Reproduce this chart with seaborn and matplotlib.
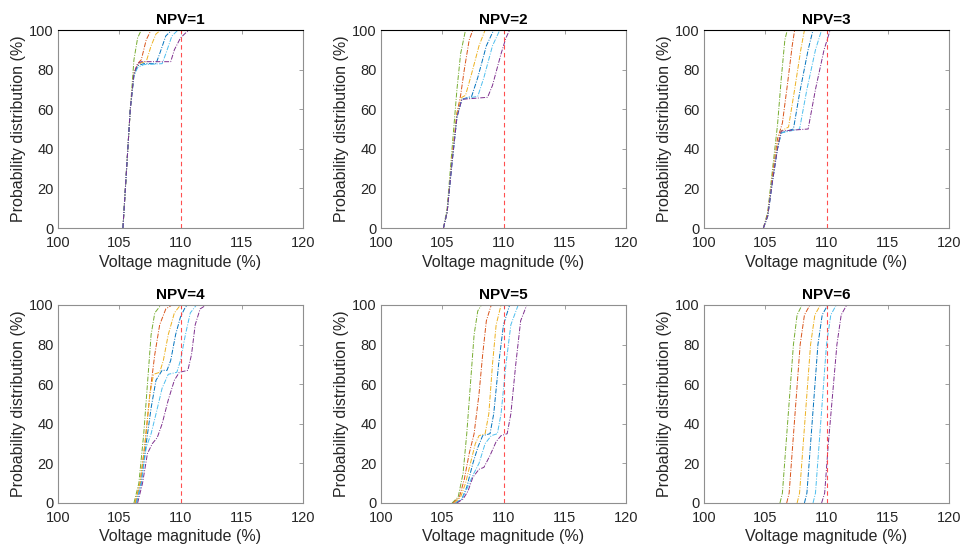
"""CDF of voltage magnitude for different numbers of PV units (NPV=1..6)."""

import matplotlib

matplotlib.use("Agg")
import matplotlib.pyplot as plt
import pandas as pd
import seaborn as sns

# MATLAB default colour order as it appears in the curves (left to right)
CURVE_COLORS = ["#77AC30", "#D95319", "#EDB120", "#0072BD", "#4DBEEE", "#7E2F8E"]
TITLES = ["NPV=1", "NPV=2", "NPV=3", "NPV=4", "NPV=5", "NPV=6"]
X_TICKS = [100, 105, 110, 115, 120]
Y_TICKS = [0, 20, 40, 60, 80, 100]
LIMIT_V = 110

# each panel: one curve per colour, (voltage %, cumulative probability %)
NPV1 = [
    [(105.3, 0), (105.6, 30), (105.9, 60), (106.2, 85), (106.5, 96), (106.8, 100)],
    [(105.3, 0), (105.6, 30), (105.9, 60), (106.2, 78), (106.5, 83), (106.8, 85), (107.2, 95), (107.6, 100)],
    [(105.3, 0), (105.6, 30), (105.9, 60), (106.2, 78), (106.5, 82), (106.8, 83.5), (107.2, 84), (107.6, 92), (108.0, 98), (108.4, 100)],
    [(105.3, 0), (105.6, 30), (105.9, 60), (106.2, 77), (106.5, 82), (107.0, 83), (108.0, 83), (108.3, 88), (108.8, 97), (109.3, 100)],
    [(105.3, 0), (105.6, 30), (105.9, 60), (106.2, 77), (106.5, 81), (107.0, 82.5), (108.5, 83), (108.8, 88), (109.3, 97), (109.8, 100)],
    [(105.3, 0), (105.6, 30), (105.9, 60), (106.2, 78), (106.5, 83), (106.8, 84), (109.2, 84), (109.5, 90), (110.0, 96), (110.5, 99), (110.8, 100)],
]
NPV2 = [
    [(105.1, 0), (105.4, 10), (105.8, 40), (106.2, 70), (106.5, 88), (106.9, 100)],
    [(105.1, 0), (105.4, 8), (105.8, 35), (106.2, 58), (106.5, 67), (106.8, 80), (107.2, 95), (107.5, 100)],
    [(105.1, 0), (105.4, 8), (105.8, 35), (106.2, 58), (106.6, 66), (106.9, 67), (107.4, 78), (108.0, 92), (108.5, 100)],
    [(105.1, 0), (105.4, 8), (105.8, 33), (106.2, 56), (106.6, 65), (107.4, 66.5), (107.9, 76), (108.6, 92), (109.2, 100)],
    [(105.1, 0), (105.4, 8), (105.8, 33), (106.2, 56), (106.6, 65), (107.9, 66.5), (108.4, 76), (109.1, 92), (109.7, 100)],
    [(105.1, 0), (105.4, 8), (105.8, 33), (106.2, 56), (106.6, 65), (108.7, 66), (109.1, 72), (109.8, 88), (110.2, 96), (110.5, 100)],
]
NPV3 = [
    [(104.85, 0), (105.2, 8), (105.6, 30), (106.0, 52), (106.3, 75), (106.6, 95), (106.8, 100)],
    [(104.85, 0), (105.2, 7), (105.6, 27), (106.0, 45), (106.4, 53), (106.8, 72), (107.2, 92), (107.4, 100)],
    [(104.85, 0), (105.2, 6), (105.6, 25), (106.0, 42), (106.3, 49), (106.9, 51), (107.4, 70), (107.9, 90), (108.2, 100)],
    [(104.85, 0), (105.2, 6), (105.6, 24), (106.0, 40), (106.3, 48), (107.3, 50), (107.8, 68), (108.5, 90), (108.9, 100)],
    [(104.85, 0), (105.2, 6), (105.6, 24), (106.0, 40), (106.3, 48), (107.8, 50), (108.4, 70), (109.1, 90), (109.6, 100)],
    [(104.85, 0), (105.2, 6), (105.6, 24), (106.0, 40), (106.3, 49), (108.5, 50), (109.1, 70), (109.8, 90), (110.3, 100)],
]
NPV4 = [
    [(106.2, 0), (106.6, 10), (107.0, 35), (107.3, 60), (107.6, 85), (107.9, 96), (108.4, 100)],
    [(106.3, 0), (106.7, 10), (107.1, 30), (107.5, 55), (107.9, 75), (108.3, 90), (108.8, 98), (109.3, 100)],
    [(106.3, 0), (106.7, 10), (107.1, 30), (107.5, 55), (107.8, 65), (108.3, 66), (108.6, 72), (109.0, 85), (109.5, 96), (110.0, 100)],
    [(106.4, 0), (106.8, 10), (107.2, 30), (107.6, 48), (108.0, 62), (108.5, 67), (108.9, 67), (109.2, 72), (109.6, 85), (110.0, 94), (110.4, 99), (110.7, 100)],
    [(106.4, 0), (106.8, 10), (107.2, 28), (107.6, 35), (108.0, 45), (108.5, 58), (109.0, 65), (109.7, 66), (110.0, 72), (110.4, 85), (110.8, 96), (111.3, 100)],
    [(106.5, 0), (106.9, 10), (107.3, 25), (107.7, 30), (108.1, 33), (108.5, 40), (109.0, 52), (109.5, 62), (109.9, 66), (110.6, 67), (110.9, 75), (111.2, 90), (111.6, 98), (112.1, 100)],
]
NPV5 = [
    [(105.8, 0), (106.3, 3), (106.7, 15), (107.0, 35), (107.3, 60), (107.6, 85), (107.9, 97), (108.2, 100)],
    [(105.9, 0), (106.4, 3), (106.8, 12), (107.2, 25), (107.6, 35), (108.0, 55), (108.3, 75), (108.6, 92), (109.0, 100)],
    [(106.0, 0), (106.5, 3), (106.9, 10), (107.3, 20), (107.7, 30), (108.0, 34), (108.5, 35), (108.8, 45), (109.1, 70), (109.4, 90), (109.8, 100)],
    [(106.1, 0), (106.6, 2), (107.0, 8), (107.5, 20), (107.9, 28), (108.3, 34), (108.9, 35), (109.2, 45), (109.6, 70), (110.0, 90), (110.5, 100)],
    [(106.1, 0), (106.6, 2), (107.0, 7), (107.5, 14), (108.0, 20), (108.5, 30), (109.0, 34), (109.5, 35), (109.8, 45), (110.2, 70), (110.6, 90), (111.2, 100)],
    [(106.2, 0), (106.7, 2), (107.1, 6), (107.5, 13), (108.0, 17), (108.4, 18), (108.9, 24), (109.4, 31), (109.8, 34), (110.3, 35), (110.6, 45), (111.0, 70), (111.4, 92), (111.9, 100)],
]
NPV6 = [
    [(106.2, 0), (106.4, 5), (106.7, 30), (107.0, 55), (107.3, 80), (107.6, 95), (108.0, 100)],
    [(106.75, 0), (106.95, 5), (107.25, 30), (107.55, 55), (107.85, 80), (108.2, 95), (108.65, 100)],
    [(107.6, 0), (107.8, 5), (108.1, 30), (108.4, 55), (108.7, 80), (109.05, 95), (109.5, 100)],
    [(108.2, 0), (108.4, 5), (108.7, 30), (109.0, 55), (109.3, 80), (109.65, 95), (110.1, 100)],
    [(108.9, 0), (109.1, 5), (109.4, 30), (109.7, 55), (110.0, 80), (110.35, 95), (110.8, 100)],
    [(109.6, 0), (109.85, 5), (110.15, 30), (110.5, 55), (110.85, 80), (111.2, 95), (111.65, 100)],
]
PANELS = [NPV1, NPV2, NPV3, NPV4, NPV5, NPV6]

AX_LEFTS = [58, 381, 704]
AX_WIDTH = 245
ROW_TOPS = [30, 305]
AX_HEIGHT = 198
FIG_W, FIG_H = 963, 547

SPINE = "#8f8f8f"
TEXT = "#262626"


def draw_panel(ax, curves, title, top_row):
    for color, pts in zip(CURVE_COLORS, curves):
        df = pd.DataFrame(pts, columns=["v", "p"])
        sns.lineplot(data=df, x="v", y="p", ax=ax, color=color, sort=False,
                     estimator=None, linewidth=0.7,
                     linestyle=(0, (5, 1.5, 1, 1.5)))
    ax.plot([LIMIT_V, LIMIT_V], [0, 100], color="#ff3030", alpha=0.85,
            linewidth=0.8, linestyle=(0, (4, 3)))
    ax.set_xlim(100, 120)
    ax.set_ylim(0, 100)
    ax.set_xticks(X_TICKS)
    ax.set_yticks(Y_TICKS)
    ax.tick_params(direction="in", top=True, right=True, length=3,
                   width=0.6, color=SPINE, labelcolor=TEXT, labelsize=10.5)
    ax.tick_params(axis="x", pad=6)
    ax.tick_params(axis="y", pad=3)
    for side in ax.spines.values():
        side.set_color(SPINE)
        side.set_linewidth(0.8)
    if top_row:
        ax.spines["top"].set_color("black")
    ax.set_title(title, fontsize=11, fontweight="bold", color="black", pad=4)
    ax.set_xlabel("Voltage magnitude (%)", fontsize=11.5, color=TEXT, labelpad=3)
    ax.set_ylabel("Probability distribution (%)", fontsize=11.5, color=TEXT, labelpad=2)
    ax.grid(False)


def main():
    sns.set_theme(style="white")
    plt.rcParams["font.family"] = ["Liberation Sans", "DejaVu Sans"]
    fig = plt.figure(figsize=(FIG_W / 100, FIG_H / 100), dpi=100)
    for i, (curves, title) in enumerate(zip(PANELS, TITLES)):
        row, col = divmod(i, 3)
        rect = [AX_LEFTS[col] / FIG_W,
                1 - (ROW_TOPS[row] + AX_HEIGHT) / FIG_H,
                AX_WIDTH / FIG_W,
                AX_HEIGHT / FIG_H]
        ax = fig.add_axes(rect)
        draw_panel(ax, curves, title, row == 0)
    fig.savefig("out.png", dpi=100, facecolor="white")


if __name__ == "__main__":
    main()
